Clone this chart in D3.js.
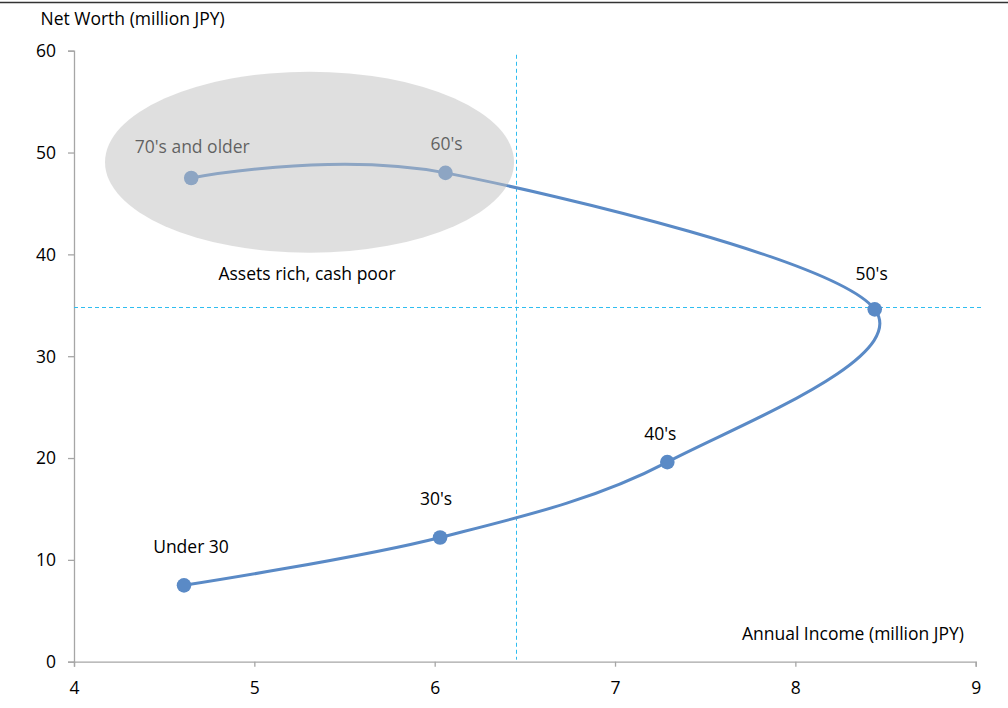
<!DOCTYPE html>
<html>
<head>
<meta charset="utf-8">
<script src="https://cdn.jsdelivr.net/npm/d3@7"></script>
<style>
  html, body { margin: 0; padding: 0; background: #fff; }
  svg { display: block; font-family: "Open Sans", "Noto Sans", sans-serif; }
</style>
</head>
<body>
<svg id="chart" width="1008" height="708"></svg>
<script>
// Household net worth vs. annual income by age group of the household head
const ageGroups   = ["Under 30", "30's", "40's", "50's", "60's", "70's and older"];
const incomeM     = [4.61, 6.03, 7.29, 8.44, 6.06, 4.65];   // annual income, million JPY
const netWorthM   = [7.5, 12.2, 19.6, 34.6, 48.0, 47.5];    // net worth, million JPY

const xTicks = [4, 5, 6, 7, 8, 9];
const yTicks = [0, 10, 20, 30, 40, 50, 60];

// reference lines (averages)
const avgIncome   = 6.45;
const avgNetWorth = 34.8;

// highlighted region: centre and radii in data units
const zoneCenter = [5.306, 49.05];
const zoneRadius = [1.134, 8.89];
const zoneText   = "Assets rich, cash poor";

// label placement relative to each point (pixels)
const labelOffset = [[7, -32], [-4, -32], [-7, -22], [-3, -29], [1, -23], [1, -25]];

const FS = "17.5px";

const svg = d3.select("#chart");
const x = d3.scaleLinear().domain([4, 9]).range([74, 975.7]);
const y = d3.scaleLinear().domain([0, 60]).range([661.7, 50.7]);

const pts = ageGroups.map((g, i) => ({ g, x: incomeM[i], y: netWorthM[i], off: labelOffset[i] }));

// thin rule across the top
svg.append("line").attr("x1", 0).attr("x2", 1008).attr("y1", 2.5).attr("y2", 2.5)
  .attr("stroke", "#333").attr("stroke-width", 1.6);

// axes
const axisColor = "#a6a6a6";
const xAxis = svg.append("g").attr("transform", `translate(0,${y(0)})`)
  .call(d3.axisBottom(x).tickValues(xTicks).tickSize(5).tickPadding(15).tickFormat(d3.format("d")));
const yAxis = svg.append("g").attr("transform", `translate(${x(4)},0)`)
  .call(d3.axisLeft(y).tickValues(yTicks).tickSize(6).tickPadding(12).tickFormat(d3.format("d")));
[xAxis, yAxis].forEach(a => {
  a.select(".domain").attr("stroke", axisColor).attr("stroke-width", 1.3);
  a.selectAll(".tick line").attr("stroke", axisColor).attr("stroke-width", 1.3);
  a.selectAll(".tick text").attr("fill", "#000").style("font-size", FS)
    .style("font-family", "'Open Sans', 'Noto Sans', sans-serif");
});
yAxis.selectAll(".tick text").attr("dy", "0.34em");

// axis titles
svg.append("text").attr("x", 40.5).attr("y", 25).text("Net Worth (million JPY)")
  .style("font-size", FS).attr("fill", "#000");
svg.append("text").attr("x", 964).attr("y", 640).attr("text-anchor", "end")
  .text("Annual Income (million JPY)").style("font-size", FS).attr("fill", "#000");

// average reference lines, snapped to the pixel grid
const refColor = "#2fbdf0";
const snap = v => Math.round(v) + 0.5;
svg.append("line")
  .attr("x1", snap(x(avgIncome))).attr("x2", snap(x(avgIncome)))
  .attr("y1", y(59.6)).attr("y2", y(0.2))
  .attr("stroke", refColor).attr("stroke-width", 1).attr("stroke-dasharray", "4,3");
svg.append("line")
  .attr("x1", x(4)).attr("x2", x(9.03))
  .attr("y1", snap(y(avgNetWorth))).attr("y2", snap(y(avgNetWorth)))
  .attr("stroke", refColor).attr("stroke-width", 1).attr("stroke-dasharray", "4,3");

// smoothed series line
const lineColor = "#5a8ac6";
const line = d3.line().x(d => x(d.x)).y(d => y(d.y)).curve(d3.curveCatmullRom.alpha(0));
svg.append("path").datum(pts).attr("d", line)
  .attr("fill", "none").attr("stroke", lineColor).attr("stroke-width", 3);

// markers
svg.selectAll("circle.pt").data(pts).join("circle").attr("class", "pt")
  .attr("cx", d => x(d.x)).attr("cy", d => y(d.y)).attr("r", 7.3)
  .attr("fill", lineColor);

// point labels
svg.selectAll("text.lbl").data(pts).join("text").attr("class", "lbl")
  .attr("x", d => x(d.x) + d.off[0]).attr("y", d => y(d.y) + d.off[1])
  .attr("text-anchor", "middle").style("font-size", FS).attr("fill", "#000")
  .text(d => d.g);

// translucent highlight zone drawn over the series
svg.append("ellipse")
  .attr("cx", x(zoneCenter[0])).attr("cy", y(zoneCenter[1]))
  .attr("rx", x(zoneCenter[0] + zoneRadius[0]) - x(zoneCenter[0]))
  .attr("ry", y(zoneCenter[1] - zoneRadius[1]) - y(zoneCenter[1]))
  .attr("fill", "rgb(192,192,192)").attr("fill-opacity", 0.5);

svg.append("text").attr("x", 307).attr("y", 280).attr("text-anchor", "middle")
  .style("font-size", FS).attr("fill", "#000").text(zoneText);
</script>
</body>
</html>
